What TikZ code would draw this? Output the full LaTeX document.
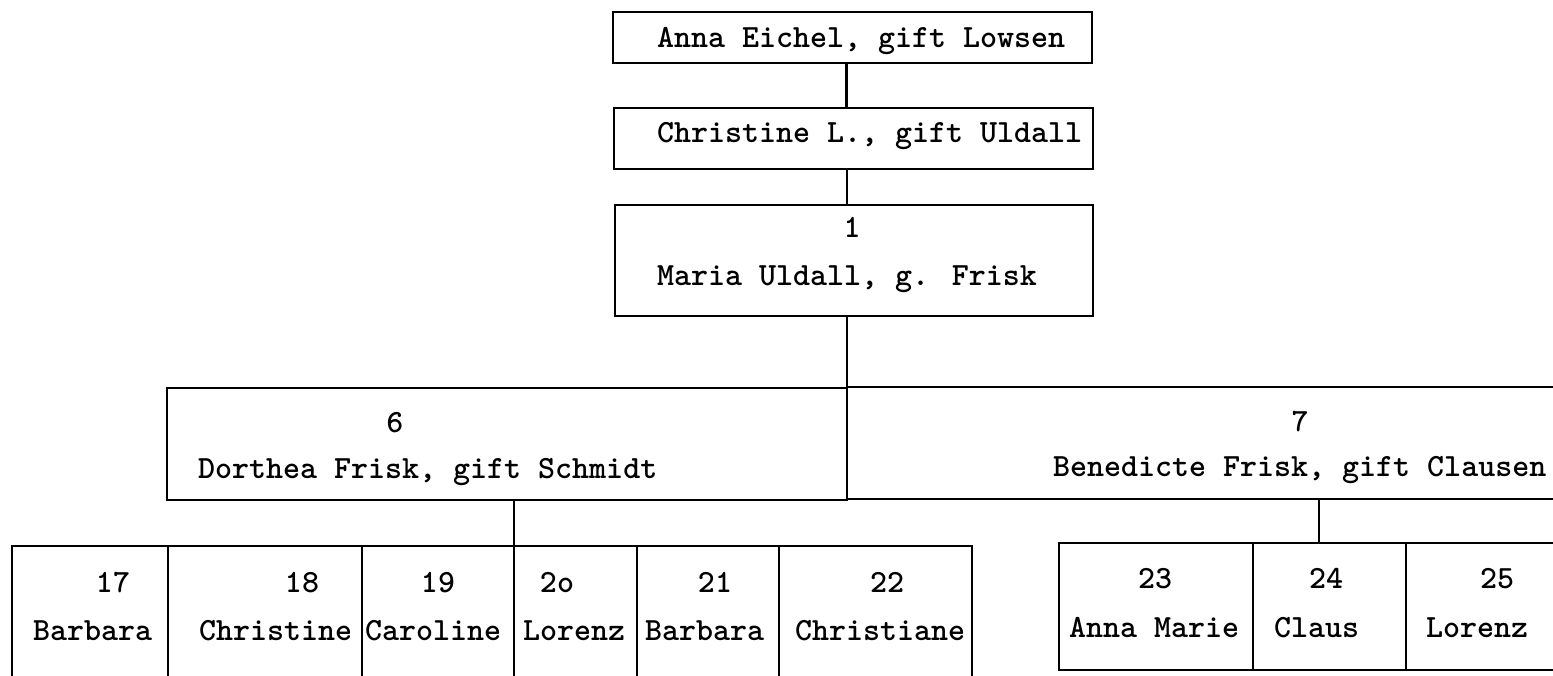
\documentclass[tikz,border=0pt]{standalone}
\usepackage{fontspec}
\begin{document}
\begin{tikzpicture}[x=1pt,y=-1pt,
  box/.style={draw, line width=2.6pt, rectangle, inner sep=0pt, outer sep=0pt},
  txt/.style={font=\ttfamily\bfseries\fontsize{32.4}{38}\selectfont, inner sep=0pt, outer sep=0pt, anchor=base west},
  num/.style={txt, anchor=base},
  link/.style={line width=2.6pt}]
\useasboundingbox (0,0) rectangle (1553,675);
\clip (0,0) rectangle (1553,675);
\fill[white] (0,0) rectangle (1553,675);
% ancestors
\node[box, minimum width=479pt, minimum height=51pt] (A) at (852.5,37.5) {};
\node[box, minimum width=479pt, minimum height=61pt] (B) at (853.5,138.5) {};
\node[box, minimum width=478pt, minimum height=111pt] (C) at (854,260.5) {};
\node[txt] (tA) at (657,47) {Anna Eichel, gift Lowsen};
\node[txt] (tB) at (657,142) {Christine L., gift Uldall};
\node[num] (nC) at (852,237) {1};
\node[txt] (tC) at (657,285) {Maria Uldall, g. Frisk};
% generation 2
\node[box, minimum width=680pt, minimum height=112pt] (b6) at (507,444) {};
\node[box, minimum width=753pt, minimum height=112pt] (b7) at (1223.5,443) {};
\node[num] (n6) at (395,432) {6};
\node[txt] (t6) at (198,478) {Dorthea Frisk, gift Schmidt};
\node[num] (n7) at (1300,431) {7};
\node[txt] (t7) at (1053,476) {Benedicte Frisk, gift Clausen};
% children of 6
\node[box, minimum width=156pt, minimum height=139pt] (c17) at (90,615.5) {};
\node[box, minimum width=194pt, minimum height=139pt] (c18) at (265,615.5) {};
\node[box, minimum width=152pt, minimum height=139pt] (c19) at (438,615.5) {};
\node[box, minimum width=123pt, minimum height=139pt] (c20) at (575.5,615.5) {};
\node[box, minimum width=142pt, minimum height=139pt] (c21) at (708,615.5) {};
\node[box, minimum width=193pt, minimum height=139pt] (c22) at (875.5,615.5) {};
\node[num] (n17) at (113,592) {17};
\node[txt] (t17) at (33,640) {Barbara};
\node[num] (n18) at (302,592) {18};
\node[txt] (t18) at (199,640) {Christine};
\node[num] (n19) at (438,592) {19};
\node[txt] (t19) at (365,640) {Caroline};
\node[num] (n20) at (557,592) {2o};
\node[txt] (t20) at (523,640) {Lorenz};
\node[num] (n21) at (715,592) {21};
\node[txt] (t21) at (645,640) {Barbara};
\node[num] (n22) at (887,592) {22};
\node[txt] (t22) at (795,640) {Christiane};
% children of 7
\node[box, minimum width=194pt, minimum height=127pt] (c23) at (1156,606.5) {};
\node[box, minimum width=153pt, minimum height=127pt] (c24) at (1329.5,606.5) {};
\node[box, minimum width=194pt, minimum height=127pt] (c25) at (1503,606.5) {};
\node[num] (n23) at (1155,588) {23};
\node[txt] (t23) at (1069,637) {Anna Marie};
\node[num] (n24) at (1326,588) {24};
\node[txt] (t24) at (1274,637) {Claus};
\node[num] (n25) at (1497,588) {25};
\node[txt] (t25) at (1426,637) {Lorenz};
% connectors
\draw[link] ([xshift=-6pt]A.south) -- ([xshift=-6pt]A.south |- B.north);
\draw[link] ([xshift=-6.5pt]B.south) -- ([xshift=-6.5pt]B.south |- C.north);
\draw[link] (b6.north east |- C.south) -- (b6.north east);
\draw[link] (c20.north west |- b6.south) -- (c20.north west);
\draw[link] ([xshift=-10.5pt]c24.north |- b7.south) -- ([xshift=-10.5pt]c24.north);
\end{tikzpicture}
\end{document}
